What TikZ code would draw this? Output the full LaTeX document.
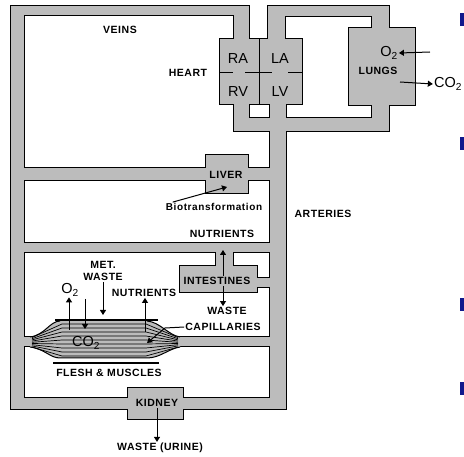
\documentclass[tikz,border=0pt]{standalone}
\usepackage{fontspec}
\setmainfont{Liberation Sans}
\newfontfamily\lblfont[LetterSpace=5]{Liberation Sans}
\newfontfamily\biofont[LetterSpace=6]{Liberation Sans}
\usetikzlibrary{arrows.meta,calc}
\definecolor{pipegray}{RGB}{188,188,188}
\definecolor{bulletblue}{RGB}{16,24,140}

\begin{document}
\begin{tikzpicture}[x=1pt,y=-1pt,
  wall/.style={draw=black,line width=1pt,line join=miter},
  pipe/.style={wall,fill=pipegray},
  room/.style={wall,fill=white},
  lbl/.style={font=\lblfont\bfseries\fontsize{10.5}{12}\selectfont,inner sep=1pt},
  big/.style={font=\fontsize{14.5}{16}\selectfont,inner sep=1pt},
  arr/.style={line width=1pt,-{Triangle[width=6pt,length=5pt]}}]
\useasboundingbox (0,0) rectangle (464,457);

% body outline, then the white rooms between the vessels
\draw[pipe] (10,6) -- (249,6) -- (249,39) -- (267,39) -- (267,6) -- (389,6) -- (389,28) -- (415,28)
  -- (415,106) -- (389,106) -- (389,132) -- (286,132) -- (286,410) -- (183,410) -- (183,420)
  -- (127,420) -- (127,410) -- (10,410) -- cycle;
\draw[room] (24,16) -- (233,16) -- (233,39) -- (219,39) -- (219,105) -- (233,105) -- (233,132)
  -- (269,132) -- (269,168) -- (248,168) -- (248,155) -- (205,155) -- (205,168) -- (24,168) -- cycle;
\draw[room] (24,181) -- (205,181) -- (205,194) -- (248,194) -- (248,181) -- (269,181) -- (269,243)
  -- (24,243) -- cycle;
\draw[room] (233,253) -- (269,253) -- (269,278) -- (257,278) -- (257,266) -- (233,266) -- cycle;
\draw[room] (24,253) -- (215,253) -- (215,266) -- (179,266) -- (179,293) -- (257,293) -- (257,288)
  -- (269,288) -- (269,337) -- (24,337) -- cycle;
\draw[room] (24,347) -- (269,347) -- (269,398) -- (183,398) -- (183,388) -- (127,388) -- (127,398)
  -- (24,398) -- cycle;
\draw[room] (285,17) -- (371,17) -- (371,28) -- (348,28) -- (348,106) -- (371,106) -- (371,118)
  -- (286,118) -- (286,105) -- (302,105) -- (302,39) -- (285,39) -- cycle;
\draw[room] (249,105) rectangle (269,118);

% heart chambers
\draw[line width=1pt] (259,39) -- (259,105);
\draw[line width=1pt] (219,73) -- (233,73) (245,73) -- (272,73) (288,73) -- (302,73);

% capillary bed
\fill[pipegray] (30,337) .. controls (45,335) and (50,321) .. (60,321) -- (147,321)
  .. controls (160,322) and (168,335) .. (180,337) -- (180,347)
  .. controls (168,349) and (160,358) .. (147,358) -- (60,358)
  .. controls (50,358) and (45,349) .. (30,347) -- cycle;
\draw[line width=1pt] (30,337) .. controls (45,335) and (50,321) .. (60,321);
\draw[line width=1pt] (147,321) .. controls (160,322) and (168,335) .. (180,337);
\draw[line width=1pt] (30,347) .. controls (45,349) and (50,358) .. (60,358) -- (147,358)
  .. controls (160,358) and (168,349) .. (180,347);
\foreach \i in {0,...,8}
  \draw[line width=0.7pt] (32,{337.5+\i*1.2}) -- (62,{324+\i*4}) -- (146,{324+\i*4}) -- (178,{337.5+\i*1.2});
\draw[line width=1.4pt] (55,320) -- (158,320);
\draw[line width=1.4pt] (53,363) -- (159,363);

% labels
\node[lbl] (veins) at (120,30) {VEINS};
\node[lbl] (heart) at (188,73) {HEART};
\node[big] (ra) at (238,59) {RA};
\node[big] (la) at (280,59) {LA};
\node[big] (rv) at (238,92) {RV};
\node[big] (lv) at (280,92) {LV};
\node[lbl] (lungs) at (378,71) {LUNGS};
\node[big] (o2lung) at (389,53) {O\textsubscript{2}};
\node[big] (co2lung) at (448,84) {CO\textsubscript{2}};
\node[lbl] (arteries) at (323,214) {ARTERIES};
\node[lbl] (liver) at (226,175) {LIVER};
\node[font=\biofont\bfseries\fontsize{10}{12}\selectfont,inner sep=1pt] (bio) at (214,207) {Biotransformation};
\node[lbl] (nutr) at (222,234) {NUTRIENTS};
\node[lbl] (intest) at (217,281) {INTESTINES};
\node[lbl] (iwaste) at (227,311) {WASTE};
\node[lbl,align=center] (metw) at (103,271) {MET.\\WASTE};
\node[big] (o2cap) at (70,290) {O\textsubscript{2}};
\node[big] (co2cap) at (86,343) {CO\textsubscript{2}};
\node[lbl] (nutcap) at (144,293) {NUTRIENTS};
\node[lbl] (capil) at (223,327) {CAPILLARIES};
\node[lbl] (flesh) at (109,373) {FLESH \& MUSCLES};
\node[lbl] (kidney) at (157,403) {KIDNEY};
\node[lbl] (urine) at (160,448) {WASTE (URINE)};

% flows
\coordinate (o2in) at (430,52);
\coordinate (co2out) at (400,82);
\coordinate (liverpt) at (227,187);
\coordinate (nutrin) at (223,250);
\coordinate (metin) at (103,315);
\coordinate (o2out) at (69,330);
\coordinate (o2top) at (85,299);
\coordinate (co2in) at (85,329);
\coordinate (nutout) at (145,332);
\coordinate (capend) at (147,343);
\draw[arr] (o2in) -- (o2lung.east);
\draw[arr] (co2out) -- (co2lung.west);
\draw[arr] ([xshift=8pt]bio.north west) -- (liverpt);
\draw[arr] ([xshift=6pt]intest.north) -- (nutrin);
\draw[arr] ([xshift=6pt]intest.south) -- ([xshift=-4pt]iwaste.north);
\draw[arr] (metw.south) -- (metin);
\draw[arr] (o2out) -- ([xshift=-1pt]o2cap.south);
\draw[arr] (o2top) -- (co2in);
\draw[arr] (nutout) -- (nutcap.south -| nutout);
\draw[arr] (capil.west) -- (165,328) -- (capend);
\draw[arr] (kidney.south) -- ([xshift=-3pt]urine.north);

% slide bullets
\foreach \y in {13,137,298,382}
  \fill[bulletblue] (460,\y) rectangle (464,\y+13);
\end{tikzpicture}
\end{document}
